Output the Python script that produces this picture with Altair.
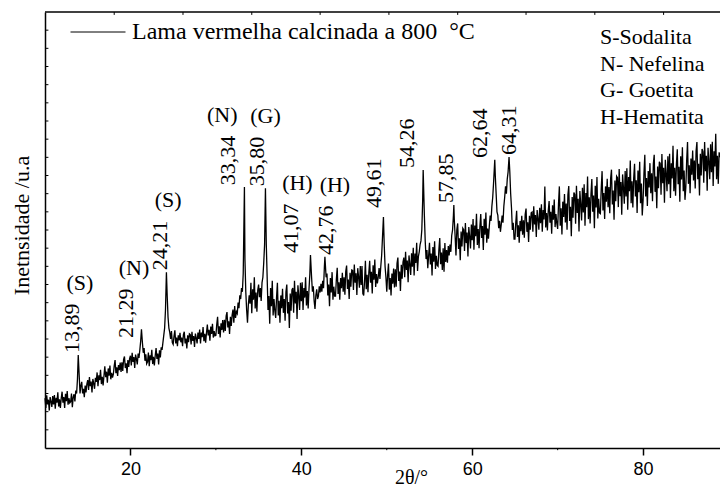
import altair as alt
import numpy as np
import pandas as pd

# 2θ sampling of the diffractogram (degrees)
theta_start = 10.0
theta_step = 0.1

# Intensity readings (arbitrary counts), one list per 10° span
counts_10 = [137, 110, 145, 120, 133, 103, 140, 128, 113, 143,
             120, 146, 108, 138, 125, 153, 114, 134, 110, 137,
             155, 125, 140, 110, 149, 129, 157, 119, 137, 124,
             127, 150, 112, 140, 148, 128, 158, 150, 190, 200,
             200, 150, 172, 182, 150, 163, 140, 172, 153, 176,
             187, 160, 195, 170, 183, 153, 190, 178, 163, 193,
             182, 208, 170, 200, 187, 215, 176, 196, 172, 199,
             225, 195, 210, 180, 219, 199, 227, 189, 207, 194,
             203, 226, 242, 206, 222, 198, 228, 214, 235, 209,
             236, 212, 244, 252, 220, 233, 206, 242, 223, 246]
counts_20 = [254, 227, 262, 237, 250, 220, 257, 245, 230, 260,
             248, 270, 295, 320, 290, 262, 275, 240, 258, 232,
             237, 263, 225, 255, 242, 270, 231, 251, 227, 254,
             275, 245, 260, 230, 269, 249, 277, 270, 290, 310,
             330, 380, 470, 420, 360, 330, 318, 300, 322, 290,
             285, 308, 324, 288, 304, 280, 310, 296, 317, 291,
             304, 280, 312, 320, 288, 301, 274, 310, 291, 314,
             312, 285, 320, 295, 308, 278, 315, 303, 288, 318,
             300, 326, 288, 318, 305, 333, 294, 314, 290, 317,
             340, 310, 325, 295, 334, 314, 342, 304, 322, 309]
counts_30 = [310, 340, 361, 314, 335, 304, 343, 325, 352, 318,
             353, 322, 363, 374, 332, 349, 314, 361, 336, 366,
             381, 345, 391, 358, 375, 370, 400, 385, 420, 410,
             440, 430, 480, 600, 520, 430, 380, 345, 395, 420,
             397, 455, 371, 437, 408, 470, 384, 428, 375, 435,
             450, 415, 440, 405, 455, 470, 510, 560, 700, 560,
             470, 380, 418, 342, 440, 390, 460, 365, 410, 378,
             358, 415, 455, 365, 405, 345, 420, 385, 438, 372,
             410, 350, 430, 450, 370, 402, 330, 425, 378, 435,
             440, 372, 460, 398, 430, 355, 448, 418, 380, 455]
counts_40 = [404, 456, 380, 440, 414, 470, 392, 432, 384, 438,
             480, 520, 470, 430, 445, 405, 383, 420, 437, 410,
             418, 445, 428, 452, 430, 460, 440, 500, 480, 470,
             480, 420, 450, 390, 468, 428, 484, 408, 444, 418,
             418, 464, 496, 424, 456, 408, 468, 440, 482, 430,
             470, 422, 486, 502, 438, 464, 410, 482, 444, 490,
             489, 435, 505, 455, 481, 421, 495, 471, 441, 501,
             449, 501, 425, 420, 459, 515, 437, 477, 429, 483,
             515, 455, 485, 425, 503, 463, 519, 443, 479, 453,
             470, 495, 465, 500, 530, 580, 636, 560, 500, 470]
counts_50 = [430, 476, 508, 436, 468, 420, 480, 452, 494, 442,
             492, 444, 508, 524, 460, 486, 432, 504, 466, 512,
             524, 470, 540, 490, 516, 456, 530, 506, 476, 536,
             499, 551, 475, 535, 509, 565, 487, 527, 540, 560,
             570, 600, 680, 765, 640, 570, 520, 545, 495, 530,
             565, 505, 535, 475, 553, 513, 569, 493, 529, 503,
             500, 546, 578, 506, 538, 490, 550, 485, 564, 512,
             545, 510, 556, 530, 560, 540, 585, 600, 640, 630,
             583, 530, 601, 618, 548, 577, 517, 596, 555, 605,
             601, 542, 619, 564, 593, 527, 608, 582, 549, 615]
counts_60 = [572, 630, 546, 612, 583, 645, 559, 603, 550, 610,
             644, 578, 611, 545, 631, 587, 648, 565, 604, 576,
             610, 640, 625, 665, 690, 730, 780, 750, 700, 650,
             640, 605, 625, 595, 615, 640, 620, 665, 690, 720,
             700, 740, 760, 800, 760, 700, 660, 600, 620, 575,
             575, 621, 653, 581, 613, 565, 625, 597, 639, 587,
             627, 579, 643, 659, 595, 621, 567, 639, 601, 647,
             649, 595, 665, 615, 641, 581, 655, 631, 601, 661,
             619, 671, 595, 655, 629, 720, 607, 647, 599, 653,
             680, 620, 650, 590, 668, 628, 684, 608, 644, 618]
counts_70 = [603, 672, 720, 612, 660, 588, 678, 636, 699, 621,
             673, 601, 697, 721, 625, 664, 583, 691, 634, 703,
             698, 617, 722, 647, 686, 596, 707, 671, 626, 716,
             648, 726, 612, 702, 663, 747, 630, 690, 618, 699,
             740, 650, 695, 605, 722, 662, 746, 632, 686, 647,
             645, 714, 762, 654, 702, 630, 720, 678, 741, 663,
             718, 646, 742, 766, 670, 709, 628, 736, 679, 748,
             744, 663, 768, 693, 732, 642, 753, 717, 672, 762,
             692, 770, 656, 746, 707, 791, 674, 734, 662, 743,
             782, 692, 737, 647, 764, 704, 788, 674, 728, 640]
counts_80 = [682, 756, 807, 692, 743, 666, 762, 717, 784, 701,
             756, 679, 782, 807, 705, 747, 660, 775, 715, 788,
             783, 697, 809, 729, 771, 675, 793, 755, 707, 803,
             726, 810, 688, 784, 742, 832, 707, 771, 694, 781,
             822, 726, 774, 678, 803, 739, 828, 707, 764, 683,
             717, 791, 842, 727, 778, 701, 797, 752, 819, 736,
             791, 714, 817, 842, 740, 782, 695, 810, 750, 823,
             816, 730, 842, 762, 804, 708, 826, 788, 740, 836,
             759, 843, 721, 817, 775, 865, 740, 804, 727, 814,
             800]

# Indexed reflections
peak_theta = [13.89, 21.29, 24.21, 33.34, 35.80, 41.07, 42.76, 49.61, 54.26, 57.85, 62.64, 64.31]
peak_counts = [256, 327, 484, 718, 715, 531, 526, 636, 765, 669, 793, 801]
peak_phase = ["(S)", "(N)", "(S)", "(N)", "(G)", "(H)", "(H)", "", "", "", "", ""]

# Annotation placement relative to each reflection
label_shift = [0.2, -0.88, 0.2, -1.0, 0.0, -1.33, 1.07, -0.16, -0.95, 0.0, -0.8, 0.92]
label_lift = [0, -30, 0, 0, 0, 0, 0, 19, 0, 0, 0, 0]
phase_shift = [0, 0, 0, -1.6, 0, -0.2, 0.1, 0, 0, 0, 0, 0]

series_name = "Lama vermelha calcinada a 800\u00a0 °C"
phase_key = ["S-Sodalita", "N- Nefelina", "G- Goetita", "H-Hematita"]

x_major = [20, 40, 60, 80]
x_minor = [30, 50, 70]
top_ticks = [18.1, 26.15, 34.2, 42.2, 50.25, 58.3, 66.3, 74.35, 82.4]
y_ticks = list(range(50, 1200, 50))

X_MIN, X_MAX = 10, 89
Y_MIN, Y_MAX = 0, 1200
SERIF = "Liberation Serif"
SANS = "Liberation Sans"

# Assemble the trace: sampled points plus the reflection maxima
counts = counts_10 + counts_20 + counts_30 + counts_40 + counts_50 + counts_60 + counts_70 + counts_80
grid = pd.DataFrame({"theta": theta_start + theta_step * np.arange(len(counts)),
                     "counts": counts})
gap = np.min(np.abs(grid["theta"].to_numpy()[:, None] - np.array(peak_theta)[None, :]), axis=1)
grid = grid[gap >= 0.045]
trace = pd.concat([grid, pd.DataFrame({"theta": peak_theta, "counts": peak_counts})])
trace = trace.sort_values("theta").reset_index(drop=True)
trace["serie"] = series_name

label_theta = np.array(peak_theta) + np.array(label_shift)
label_counts = np.array(peak_counts) + np.array(label_lift)
peak_labels_df = pd.DataFrame({
    "theta": label_theta,
    "counts": label_counts,
    "label": [f"{t:.2f}".replace(".", ",") for t in peak_theta],
})
phase_df = pd.DataFrame({
    "theta": label_theta + np.array(phase_shift),
    "counts": label_counts,
    "phase": peak_phase,
})

xs = alt.Scale(domain=[X_MIN, X_MAX], nice=False, zero=False)
ys = alt.Scale(domain=[Y_MIN, Y_MAX], nice=False, zero=False)

line = alt.Chart(trace).mark_line(strokeWidth=1.3).encode(
    x=alt.X("theta:Q", scale=xs, axis=alt.Axis(
        values=x_major, format="d", grid=False,
        tickSize=7, tickWidth=1.5, tickColor="black",
        domainColor="black", domainWidth=1.5,
        labelFont=SANS, labelFontSize=18, labelColor="black", labelPadding=5,
        title="2θ/°", titleFont=SERIF, titleFontSize=20, titleFontWeight="normal",
        titleColor="black", titleX=366, titleY=35,
        titleBaseline="alphabetic", titleAlign="center")),
    y=alt.Y("counts:Q", scale=ys, axis=alt.Axis(
        ticks=False, labels=False, grid=False,
        domainColor="black", domainWidth=1.5,
        title="Inetnsidade /u.a", titleFont=SERIF, titleFontSize=22,
        titleFontWeight="normal", titleColor="black", titleAngle=270,
        titleX=-17, titleY=213, titleBaseline="alphabetic", titleAlign="center")),
    color=alt.Color("serie:N", scale=alt.Scale(range=["black"]), legend=alt.Legend(
        title=None, orient="none", legendX=25, legendY=-8,
        symbolType="stroke", symbolSize=3025, symbolStrokeWidth=1,
        labelFont=SERIF, labelFontSize=24, labelColor="black",
        labelOffset=6, labelLimit=0, padding=0)),
)

# frame: top border and inward ticks
top_border = alt.Chart(pd.DataFrame({"theta": [X_MIN], "theta2": [X_MAX], "counts": [Y_MAX]})).mark_rule(
    color="black", strokeWidth=1.5).encode(
    x=alt.X("theta:Q", scale=xs), x2="theta2:Q", y=alt.Y("counts:Q", scale=ys))

top_tick_marks = alt.Chart(pd.DataFrame({"theta": top_ticks})).transform_calculate(
    counts=f"{Y_MAX}", counts2=f"{Y_MAX - 8}").mark_rule(color="black", strokeWidth=1).encode(
    x=alt.X("theta:Q", scale=xs), y=alt.Y("counts:Q", scale=ys), y2="counts2:Q")

left_tick_marks = alt.Chart(pd.DataFrame({"counts": y_ticks})).transform_calculate(
    theta=f"{X_MIN}", theta2=f"{X_MIN + 0.4}").mark_rule(color="black", strokeWidth=1).encode(
    y=alt.Y("counts:Q", scale=ys), x=alt.X("theta:Q", scale=xs), x2="theta2:Q")

minor_tick_marks = alt.Chart(pd.DataFrame({"theta": x_minor})).transform_calculate(
    counts=f"{Y_MIN}", counts2=f"{Y_MIN - 6}").mark_rule(color="black", strokeWidth=1).encode(
    x=alt.X("theta:Q", scale=xs), y=alt.Y("counts:Q", scale=ys), y2="counts2:Q")

peak_labels = alt.Chart(peak_labels_df).mark_text(
    angle=270, align="left", baseline="middle", dx=2, dy=-8,
    font=SERIF, fontSize=22, color="black").encode(
    x=alt.X("theta:Q", scale=xs), y=alt.Y("counts:Q", scale=ys),
    text="label:N")

phase_labels = alt.Chart(phase_df).mark_text(
    align="center", baseline="alphabetic", dy=-65,
    font=SERIF, fontSize=22, color="black").encode(
    x=alt.X("theta:Q", scale=xs), y=alt.Y("counts:Q", scale=ys),
    text="phase:N")

key = alt.Chart(pd.DataFrame({"k": [0]})).mark_text(
    align="left", baseline="alphabetic", lineBreak="\n", lineHeight=26.7,
    font=SERIF, fontSize=22, color="black").encode(
    x=alt.value(555), y=alt.value(32), text=alt.value("\n".join(phase_key)))

chart = alt.layer(
    line, top_border, top_tick_marks, left_tick_marks, minor_tick_marks,
    peak_labels, phase_labels, key,
).properties(
    width=675, height=436,
    padding={"left": 45, "top": 12, "right": 0, "bottom": 38},
    autosize=alt.AutoSizeParams(type="none"),
    background="white",
).configure_view(strokeWidth=0)

chart.save("out.html", embed_options={"renderer": "svg", "actions": False})
